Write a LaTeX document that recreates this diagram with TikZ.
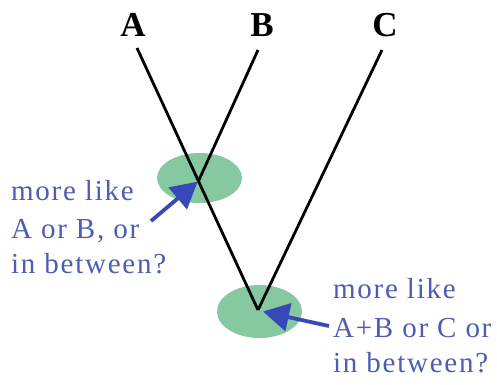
\documentclass[tikz,border=0pt]{standalone}
\usepackage{fontspec}
\setmainfont{Liberation Serif}
\newfontfamily\spaced[LetterSpace=6]{Liberation Serif}
\usetikzlibrary{arrows.meta}
\definecolor{blob}{RGB}{134,200,160}
\definecolor{txtblue}{RGB}{78,92,180}
\definecolor{arrblue}{RGB}{55,72,185}
\tikzset{
  lbl/.style={font=\fontsize{35}{40}\selectfont\bfseries, anchor=base, inner sep=0pt},
  q/.style={font=\spaced\fontsize{29}{37}\selectfont, text=txtblue, anchor=base west, inner sep=0pt},
  branch/.style={line width=2.8pt, black},
  blobstyle/.style={fill=blob, draw=none},
  pointer/.style={line width=3.8pt, arrblue, -{Triangle[length=26pt,width=28pt]}, shorten >=-2pt}
}
\begin{document}
\begin{tikzpicture}[x=1pt,y=-1pt]
\useasboundingbox (0,0) rectangle (497,384);
\fill[white] (0,0) rectangle (497,384);
% blobs
\fill[blobstyle] (199.5,178) ellipse [x radius=42.5, y radius=25];
\fill[blobstyle] (259.5,311.5) ellipse [x radius=42.5, y radius=26.5];
% coordinates
\coordinate (topA) at (137,48);
\coordinate (topB) at (258,50);
\coordinate (topC) at (382,50);
\coordinate (junc) at (198.5,181);
\coordinate (vert) at (258,310);
% labels
\node[lbl] (la) at (133,36) {A};
\node[lbl] (lb) at (262,36) {B};
\node[lbl] (lc) at (385,36) {C};
% branches
\draw[branch] (topA) -- (vert);
\draw[branch] (topB) -- (junc);
\draw[branch] (topC) -- (vert);
% arrows
\coordinate (t1) at (151,221);
\coordinate (h1) at (196,183);
\coordinate (t2) at (329,326);
\coordinate (h2) at (265,312);
\draw[pointer] (t1) -- (h1);
\draw[pointer] (t2) -- (h2);
% texts
\node[q] (a1) at (11,200) {more like};
\node[q] (a2) at (11,238) {A or B, or};
\node[q] (a3) at (11,273) {in between?};
\node[q] (b1) at (333,298) {more like};
\node[q] (b2) at (333,337) {A+B or C or};
\node[q] (b3) at (333,372) {in between?};
\end{tikzpicture}
\end{document}
